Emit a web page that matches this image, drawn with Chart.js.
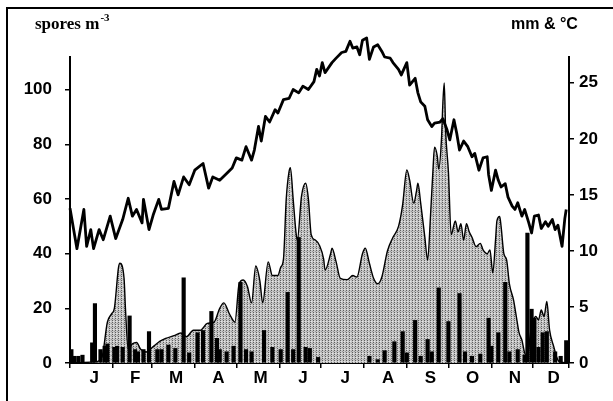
<!DOCTYPE html>
<html>
<head>
<meta charset="utf-8">
<script src="https://cdn.jsdelivr.net/npm/chart.js@4.4.0/dist/chart.umd.min.js"></script>
<style>
    html, body { margin: 0; padding: 0; background: #fff; }
    #wrap { width: 613px; height: 401px; }
</style>
</head>
<body>
<div id="wrap"><canvas id="sporeChart" width="613" height="401"></canvas></div>
<script>
// Data, x = day of year

const monthLabels = ['J', 'F', 'M', 'A', 'M', 'J', 'J', 'A', 'S', 'O', 'N', 'D'];
const monthStarts = [0, 31, 59, 90, 120, 151, 181, 212, 243, 273, 304, 334, 360];
const leftTicks = [0, 20, 40, 60, 80, 100];
const rightTicks = [0, 5, 10, 15, 20, 25];

// mean temperature, °C (right axis)
const tempDay = [0, 5, 10, 12, 15, 17, 21, 24, 29, 33, 38, 42, 45, 48, 52, 53, 57, 60, 64, 66,
    71, 75, 78, 82, 86, 90, 96, 100, 103, 108, 113, 117, 120, 124, 127, 131, 133, 136, 138, 141,
    144, 148, 150, 154, 158, 161, 165, 168, 172, 176, 178, 180, 182, 184, 189, 192, 196, 199, 202, 204,
    207, 209, 211, 214, 216, 219, 222, 225, 227, 231, 233, 237, 239, 243, 245, 249, 251, 253, 256, 258,
    261, 263, 267, 269, 272, 274, 277, 279, 281, 284, 287, 290, 292, 295, 298, 301, 302, 304, 307, 309,
    311, 314, 316, 319, 321, 323, 326, 328, 331, 333, 335, 338, 340, 343, 345, 348, 350, 352, 355, 357, 358];
const tempC = [13.8, 10.2, 13.7, 10.4, 11.9, 10.2, 11.9, 11.0, 13.1, 11.1, 12.8, 14.7, 13.1, 13.7, 12.5, 14.6, 11.9, 13.2, 14.6, 13.7,
    13.8, 16.2, 15.0, 16.6, 15.9, 17.2, 17.8, 15.6, 16.6, 16.3, 16.9, 17.4, 18.3, 18.1, 19.3, 18.1, 19.0, 21.1, 19.8, 22.0,
    21.5, 22.6, 22.3, 23.5, 23.6, 24.4, 24.1, 24.7, 24.4, 25.1, 26.2, 25.6, 26.8, 25.9, 26.8, 27.2, 27.7, 27.8, 28.7, 28.1,
    28.2, 27.5, 28.8, 29.0, 27.1, 28.2, 28.4, 27.8, 27.3, 27.2, 26.8, 26.2, 25.7, 26.8, 24.8, 25.4, 24.1, 23.3, 22.9, 21.7,
    21.1, 21.4, 21.5, 21.8, 20.8, 19.9, 21.7, 20.5, 19.0, 19.8, 19.3, 18.4, 18.7, 17.2, 18.3, 18.4, 16.8, 15.4, 17.2, 16.3,
    15.7, 16.0, 14.8, 14.0, 13.7, 14.3, 13.1, 13.7, 12.5, 11.6, 13.1, 13.2, 12.0, 12.6, 12.2, 12.8, 11.9, 12.3, 10.4, 12.9, 13.7];

// airborne spores, spores m-3 (left axis)
const sporeDay = [0, 19, 23, 27, 30, 32, 35, 36, 39, 40, 42, 45, 48, 51, 55, 60, 65, 69, 75, 80,
    84, 89, 94, 99, 104, 108, 111, 115, 119, 122, 125, 128, 131, 134, 137, 139, 143, 146, 150, 152,
    154, 156, 158, 159, 161, 163, 164, 167, 170, 172, 174, 177, 180, 183, 184, 188, 189, 192, 195, 200,
    204, 207, 211, 213, 216, 219, 222, 225, 229, 233, 237, 240, 243, 245, 248, 250, 251, 253, 256, 258,
    260, 262, 263, 265, 266, 268, 269, 270, 271, 273, 275, 278, 280, 282, 284, 286, 288, 290, 293, 296,
    298, 301, 303, 305, 307, 308, 310, 311, 313, 315, 317, 320, 322, 324, 326, 328, 330, 332, 333, 336,
    338, 340, 342, 344, 346, 349, 351, 353, 360];
const sporeCount = [0, 0.5, 2, 15, 18, 20, 35, 36.5, 31, 20, 5, 7, 7.5, 5, 4, 6, 8, 9, 10, 11,
    9.6, 12, 12, 14.5, 15, 20, 22, 18, 15, 29, 30.4, 28, 22, 35.5, 30, 22, 37, 32, 32, 35,
    38, 60, 70, 71.5, 60, 48, 45, 61, 65.8, 60, 47, 45, 43, 38, 34, 40, 42, 37, 31, 30.5,
    32, 31.5, 40, 42, 36.5, 31, 29, 31.5, 41, 46, 50, 58, 70.7, 67, 58.5, 63, 65.8, 58.5, 46, 37.7,
    53, 72, 79, 75.6, 71, 82, 95, 102.5, 85, 70, 47, 52, 48, 51, 45, 51, 48, 46, 42.6, 43.8,
    41.4, 40, 41.4, 33, 45, 52, 53.6, 50, 40, 37.7, 29, 23, 17, 11, 8.4, 3.7, 2, 10, 13.3, 17,
    15.8, 19.4, 17, 22.5, 12, 6, 2.3, 0.5, 0];

// daily rainfall, mm (right axis)
const rainDay = [1, 3, 6, 9, 16, 18, 22, 25, 27, 32, 34, 38, 43, 47, 49, 53, 57, 63, 66, 71,
    76, 82, 86, 92, 96, 102, 106, 108, 113, 118, 123, 127, 131, 140, 146, 152, 157, 161, 165, 170,
    173, 179, 216, 222, 227, 234, 240, 243, 249, 253, 258, 261, 266, 273, 281, 285, 290, 296, 302, 304,
    309, 314, 317, 323, 328, 330, 333, 335, 338, 341, 344, 350, 354, 358];
const rainMm = [1.2, 0.6, 0.6, 0.7, 1.8, 5.3, 1.2, 1.5, 1.7, 1.4, 1.5, 1.4, 4.2, 1.2, 1.0, 1.2, 2.8, 1.2, 1.2, 1.6,
    1.3, 7.6, 0.9, 2.7, 2.9, 4.6, 2.2, 1.2, 1.0, 1.5, 7.2, 1.2, 1.0, 2.9, 1.4, 1.2, 6.3, 1.2, 11.2, 1.4,
    1.3, 0.5, 0.6, 0.3, 1.1, 1.9, 2.8, 0.9, 3.8, 0.6, 2.1, 1.0, 6.7, 3.7, 6.2, 1.0, 0.6, 0.8, 4.0, 1.5,
    2.7, 7.2, 1.0, 1.2, 0.7, 11.6, 4.8, 4.0, 1.4, 2.7, 2.8, 1.0, 0.6, 2.0];

// month letters sit between the month ticks
const monthMid = monthLabels.map((m, i) => (monthStarts[i] + monthStarts[i + 1]) / 2 + 2);

function points(xs, ys) {
    return xs.map((x, i) => ({ x: x, y: ys[i] }));
}

// stippled grey fill like the printed figure
function stipple() {
    const c = document.createElement('canvas');
    c.width = 3;
    c.height = 4;
    const g = c.getContext('2d');
    g.fillStyle = '#c6c6c6';
    g.fillRect(0, 0, 3, 4);
    g.fillStyle = '#5e5e5e';
    g.fillRect(1, 0, 1, 1);
    g.fillRect(1, 2, 1, 1);
    g.fillStyle = '#9a9a9a';
    g.fillRect(0, 3, 1, 1);
    g.fillStyle = '#e4e4e4';
    g.fillRect(2, 1, 1, 1);
    return g.createPattern(c, 'repeat');
}

const tickFont = { family: '"Liberation Sans", Arial, sans-serif', size: 17, weight: 'bold' };

// frame and the two axis titles
const framePlugin = {
    id: 'framePlugin',
    afterDraw(chart) {
        const c = chart.ctx;
        c.save();
        c.strokeStyle = '#000';
        c.lineWidth = 2;
        c.beginPath();
        c.moveTo(7, 401);
        c.lineTo(7, 8);
        c.lineTo(613, 8);
        c.stroke();

        c.fillStyle = '#000';
        c.textBaseline = 'alphabetic';
        c.font = 'bold 17px "Liberation Serif", "Times New Roman", serif';
        c.fillText('spores m', 35, 29);
        const w = c.measureText('spores m').width;
        c.font = 'bold 11px "Liberation Serif", "Times New Roman", serif';
        c.fillText('-3', 35 + w + 1, 21);
        c.font = 'bold 16px "Liberation Sans", Arial, sans-serif';
        c.fillText('mm & °C', 511, 29);
        c.restore();
    }
};

const ctx = document.getElementById('sporeChart');
const chart = new Chart(ctx, {
    type: 'line',
    data: {
        datasets: [{
            label: '°C',
            data: points(tempDay, tempC),
            yAxisID: 'yR',
            borderColor: '#000',
            borderWidth: 2.8,
            borderJoinStyle: 'round',
            pointRadius: 0,
            tension: 0,
            fill: false,
            clip: false,
            order: 0
        }, {
            type: 'bar',
            label: 'mm',
            data: points(rainDay, rainMm),
            yAxisID: 'yR',
            backgroundColor: '#000',
            barThickness: 3.5,
            order: 1
        }, {
            label: 'spores',
            data: points(sporeDay, sporeCount),
            yAxisID: 'yL',
            borderColor: '#000',
            borderWidth: 1.4,
            backgroundColor: stipple(),
            pointRadius: 0,
            tension: 0.3,
            cubicInterpolationMode: 'monotone',
            fill: 'origin',
            order: 2
        }]
    },
    options: {
        responsive: false,
        animation: false,
        layout: { padding: { top: 57, left: 0, right: 0, bottom: 0 } },
        plugins: {
            legend: { display: false },
            tooltip: { enabled: false }
        },
        scales: {
            x: {
                type: 'linear',
                offset: false,
                min: 0,
                max: 360,
                afterBuildTicks: s => {
                    s.ticks = monthStarts.concat(monthMid).sort((a, b) => a - b).map(v => ({ value: v }));
                },
                afterFit: s => { s.height = 38; },
                ticks: {
                    autoSkip: false,
                    maxRotation: 0,
                    padding: 0,
                    color: '#000',
                    font: tickFont,
                    callback: v => {
                        const i = monthMid.indexOf(v);
                        return i >= 0 ? monthLabels[i] : '';
                    }
                },
                grid: {
                    offset: false,
                    drawOnChartArea: false,
                    tickLength: 5,
                    lineWidth: 1.5,
                    color: c => (c.tick && monthStarts.includes(c.tick.value)) ? '#000' : 'rgba(0,0,0,0)'
                },
                border: { color: '#000', width: 2 }
            },
            yL: {
                position: 'left',
                min: 0,
                max: 112,
                afterBuildTicks: s => { s.ticks = leftTicks.map(v => ({ value: v })); },
                afterFit: s => { s.width = 70; },
                ticks: { padding: 13, color: '#000', font: tickFont },
                grid: { drawOnChartArea: false, tickLength: 5, lineWidth: 1.5, color: '#000' },
                border: { color: '#000', width: 2 }
            },
            yR: {
                position: 'right',
                min: 0,
                max: 27.3,
                afterBuildTicks: s => { s.ticks = rightTicks.map(v => ({ value: v })); },
                afterFit: s => { s.width = 44; },
                ticks: { padding: 5, color: '#000', font: tickFont },
                grid: { drawOnChartArea: false, tickLength: 5, lineWidth: 1.5, color: '#000' },
                border: { color: '#000', width: 2 }
            }
        }
    },
    plugins: [framePlugin]
});
</script>
</body>
</html>
